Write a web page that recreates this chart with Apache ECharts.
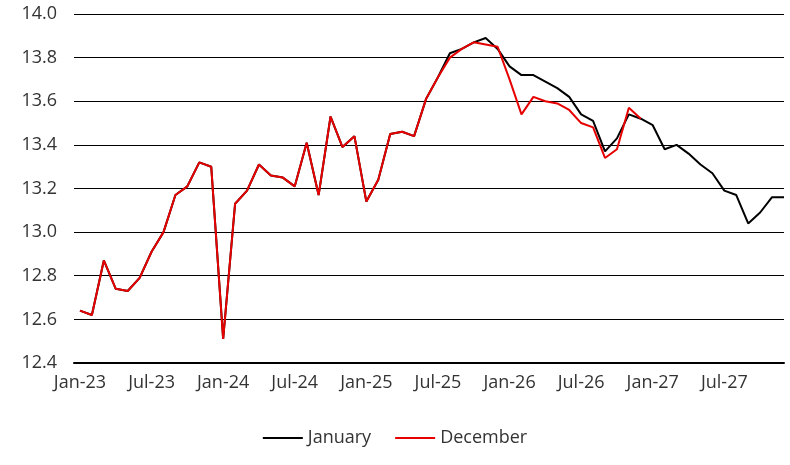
<!DOCTYPE html>
<html><head><meta charset="utf-8">
<script src="https://cdn.jsdelivr.net/npm/echarts@6/dist/echarts.min.js"></script>
<style>html,body{margin:0;padding:0;background:#fff}#c{width:790px;height:465px}</style>
</head><body><div id="c"></div>
<script>
const months = ['Jan','Feb','Mar','Apr','May','Jun','Jul','Aug','Sep','Oct','Nov','Dec'];
const years = ['23','24','25','26','27'];
const categories = [];
years.forEach(y => months.forEach(m => categories.push(m + '-' + y)));
const tickLabelIdx = [0,6,12,18,24,30,36,42,48,54];

const december = [12.64,12.62,12.87,12.74,12.73,12.79,12.91,13.00,13.17,13.21,13.32,13.30,
  12.51,13.13,13.19,13.31,13.26,13.25,13.21,13.41,13.17,13.53,13.39,13.44,
  13.14,13.24,13.45,13.46,13.44,13.61,13.71,13.80,13.84,13.87,13.86,13.85,
  13.70,13.54,13.62,13.60,13.59,13.56,13.50,13.48,13.34,13.38,13.57,13.52];
const january = [12.64,12.62,12.87,12.74,12.73,12.79,12.91,13.00,13.17,13.21,13.32,13.30,
  12.51,13.13,13.19,13.31,13.26,13.25,13.21,13.41,13.17,13.53,13.39,13.44,
  13.14,13.24,13.45,13.46,13.44,13.61,13.71,13.82,13.84,13.87,13.89,13.84,
  13.76,13.72,13.72,13.69,13.66,13.62,13.54,13.51,13.37,13.43,13.54,13.52,
  13.49,13.38,13.40,13.36,13.31,13.27,13.19,13.17,13.04,13.09,13.16,13.16];

const font = 'Open Sans';
const chart = echarts.init(document.getElementById('c'));
chart.setOption({
  animation: false,
  grid: {left: 74, right: 6, top: 14, bottom: 102, containLabel: false},
  legend: {
    bottom: 13, left: 'center', itemWidth: 40, itemHeight: 2, itemGap: 24,
    icon: 'rect',
    textStyle: {fontFamily: font, fontSize: 18, color: '#333'},
    data: ['January', 'December']
  },
  xAxis: {
    type: 'value', min: -0.5, max: 59,
    axisLine: {show: true, onZero: false, lineStyle: {color: '#000', width: 2}},
    axisTick: {show: false},
    splitLine: {show: false},
    axisLabel: {
      customValues: tickLabelIdx,
      formatter: v => categories[Math.round(v)],
      fontFamily: font, fontSize: 18, color: '#333', margin: 11
    }
  },
  yAxis: {
    type: 'value', min: 12.4, max: 14.0, interval: 0.2,
    axisLine: {show: false}, axisTick: {show: false},
    splitLine: {lineStyle: {color: '#000', width: 1}},
    axisLabel: {formatter: v => v.toFixed(1), fontFamily: font, fontSize: 18, color: '#333', margin: 17}
  },
  series: [
    {name: 'January', type: 'line', symbol: 'none', color: '#000',
     lineStyle: {width: 2, color: '#000'}, z: 2,
     data: january.map((v, i) => [i, v])},
    {name: 'December', type: 'line', symbol: 'none', color: '#e60000',
     lineStyle: {width: 2, color: '#e60000'}, z: 3,
     data: december.map((v, i) => [i, v])}
  ]
});
</script></body></html>
